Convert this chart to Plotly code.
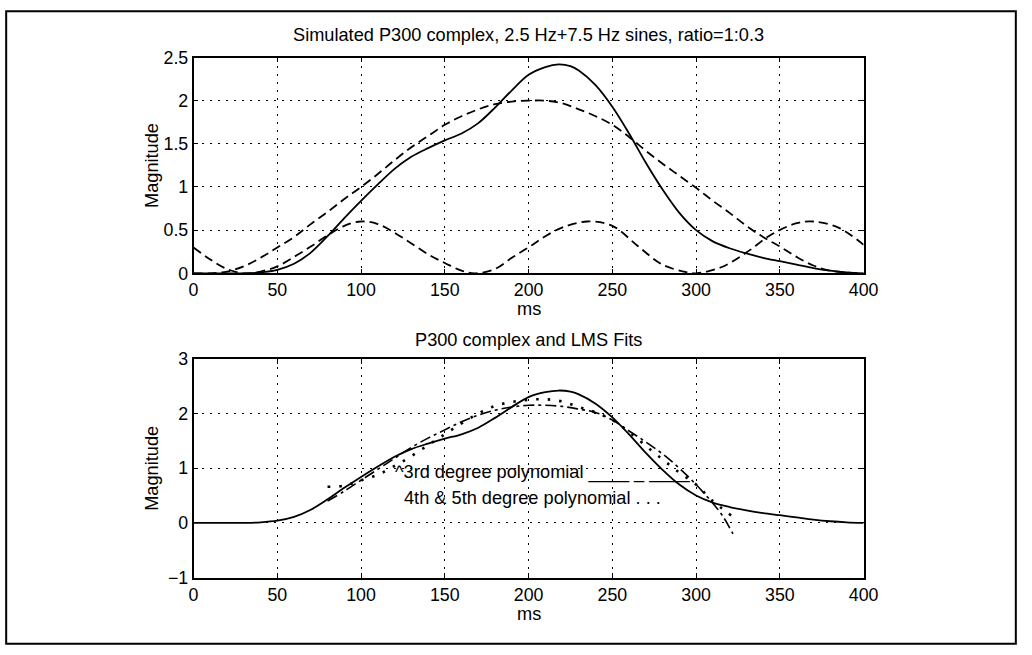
import plotly.graph_objects as go

# ---------------- data ----------------
ms_p300 = [0, 10, 20, 30, 40, 50, 60, 70, 80, 90, 100, 110, 120, 130, 140, 150, 160, 170,
           180, 190, 200, 210, 218, 225, 230, 240, 250, 260, 270, 280, 290, 300, 310, 320,
           330, 340, 350, 360, 370, 380, 390, 400]
p300 = [0.0, 0.0, 0.0, 0.0, 0.01, 0.04, 0.11, 0.24, 0.43, 0.64, 0.84, 1.03, 1.21, 1.35, 1.45,
        1.54, 1.62, 1.74, 1.92, 2.12, 2.30, 2.39, 2.42, 2.40, 2.35, 2.18, 1.93, 1.62, 1.28,
        0.97, 0.70, 0.50, 0.37, 0.29, 0.23, 0.18, 0.14, 0.10, 0.06, 0.03, 0.01, 0.0]

ms_slow = [0, 10, 20, 30, 40, 50, 60, 70, 80, 90, 100, 110, 120, 130, 140, 150, 160, 170,
           180, 190, 200, 210, 220, 230, 240, 250, 260, 270, 280, 290, 300, 310, 320, 330,
           340, 350, 360, 370, 380, 390, 400]
slow_sine = [0.0, 0.0, 0.02, 0.08, 0.18, 0.30, 0.42, 0.57, 0.71, 0.86, 1.0, 1.15, 1.31, 1.46,
             1.59, 1.72, 1.82, 1.90, 1.96, 1.99, 2.0, 2.0, 1.97, 1.90, 1.82, 1.72, 1.58, 1.42,
             1.27, 1.13, 0.99, 0.84, 0.70, 0.55, 0.42, 0.31, 0.19, 0.09, 0.03, 0.01, 0.0]

ms_fast = [0, 10, 20, 30, 40, 50, 60, 70, 80, 90, 100, 110, 125, 140, 150, 160, 168, 180, 190,
           200, 210, 220, 235, 250, 265, 280, 295, 300, 315, 330, 345, 360, 370, 385, 400]
fast_sine = [0.30, 0.16, 0.05, 0.0, 0.02, 0.08, 0.19, 0.31, 0.44, 0.55, 0.60, 0.57, 0.41,
             0.22, 0.12, 0.03, 0.0, 0.05, 0.18, 0.30, 0.43, 0.53, 0.60, 0.55, 0.32, 0.10,
             0.01, 0.0, 0.07, 0.24, 0.45, 0.58, 0.60, 0.53, 0.33]

ms_fit3 = [80, 90, 100, 110, 120, 130, 140, 150, 160, 170, 180, 190, 200, 210, 220, 230, 240,
           250, 260, 270, 280, 290, 300, 310, 316, 322]
fit3 = [0.40, 0.58, 0.78, 0.98, 1.18, 1.38, 1.55, 1.70, 1.85, 1.97, 2.06, 2.12, 2.15, 2.15,
        2.13, 2.08, 2.02, 1.88, 1.68, 1.48, 1.26, 1.00, 0.70, 0.36, 0.12, -0.20]

ms_fit45 = [80, 90, 100, 110, 120, 130, 140, 150, 160, 170, 180, 190, 200, 210, 220, 230, 240,
            250, 260, 270, 280, 290, 300, 310, 322]
fit45 = [0.66, 0.68, 0.78, 0.88, 1.04, 1.22, 1.42, 1.62, 1.82, 2.00, 2.14, 2.21, 2.25, 2.26,
         2.22, 2.12, 2.02, 1.88, 1.66, 1.41, 1.16, 0.92, 0.70, 0.40, 0.11]

x_ticks = [0, 50, 100, 150, 200, 250, 300, 350, 400]
y_ticks_top = [0, 0.5, 1, 1.5, 2, 2.5]
y_ticks_bottom = [-1, 0, 1, 2, 3]

top_title = "Simulated P300 complex, 2.5 Hz+7.5 Hz sines, ratio=1:0.3"
bottom_title = "P300 complex and LMS Fits"
fit3_label = "^3rd degree polynomial ____ _ ____"
fit45_label = "4th & 5th degree polynomial . . ."

# ---------------- layout geometry ----------------
W, H = 1032, 655
# the captured picture comes out slightly shrunk/offset; these undo it
KX, OX = 0.982, 4.2
KY, OY = 0.975, 6.2

# target pixel positions in the final picture
LEFT, RIGHT = 193, 864
TOP1, BOT1 = 54, 271
TOP2, BOT2 = 357, 577
FONT = "Liberation Sans, Arial, Helvetica, sans-serif"


def fx(p):
    return ((p - OX) / KX) / W


def fy(p):
    return 1 - ((p - OY) / KY) / H


fig = go.Figure()

# top subplot
fig.add_trace(go.Scatter(x=ms_p300, y=p300, mode="lines", xaxis="x", yaxis="y",
                         line=dict(color="black", width=1.8, shape="spline", smoothing=0.9)))
fig.add_trace(go.Scatter(x=ms_slow, y=slow_sine, mode="lines", xaxis="x", yaxis="y",
                         line=dict(color="black", width=1.8, dash="9px,5px", shape="spline")))
fig.add_trace(go.Scatter(x=ms_fast, y=fast_sine, mode="lines", xaxis="x", yaxis="y",
                         line=dict(color="black", width=1.8, dash="9px,5px", shape="spline")))

# bottom subplot
fig.add_trace(go.Scatter(x=ms_p300, y=p300, mode="lines", xaxis="x2", yaxis="y2",
                         line=dict(color="black", width=1.8, shape="spline", smoothing=0.9)))
fig.add_trace(go.Scatter(x=ms_fit3, y=fit3, mode="lines", xaxis="x2", yaxis="y2",
                         line=dict(color="black", width=1.6, dash="11px,4px,3px,4px",
                                   shape="spline")))
fig.add_trace(go.Scatter(x=ms_fit45, y=fit45, mode="lines", xaxis="x2", yaxis="y2",
                         line=dict(color="black", width=2.6, dash="2.5px,9px", shape="spline")))

axis_common = dict(
    showline=True, linecolor="black", linewidth=1.5, mirror="ticks",
    ticks="inside", ticklen=5, tickcolor="black", tickwidth=1.2,
    showgrid=True, gridcolor="black", gridwidth=1.3, griddash="2px,6px",
    zeroline=False, tickfont=dict(family=FONT, size=17.8, color="black"),
)

fig.update_layout(
    width=W, height=H, autosize=False,
    margin=dict(l=0, r=0, t=0, b=0),
    paper_bgcolor="white", plot_bgcolor="white",
    showlegend=False,
    xaxis=dict(domain=[fx(LEFT), fx(RIGHT)], anchor="y", range=[0, 400],
               tickvals=x_ticks, **axis_common),
    yaxis=dict(domain=[fy(BOT1), fy(TOP1)], anchor="x", range=[0, 2.5],
               tickvals=y_ticks_top, ticktext=[f"{v:g}" for v in y_ticks_top], **axis_common),
    xaxis2=dict(domain=[fx(LEFT), fx(RIGHT)], anchor="y2", range=[0, 400],
                tickvals=x_ticks, **axis_common),
    yaxis2=dict(domain=[fy(BOT2), fy(TOP2)], anchor="x2", range=[-1, 3],
                tickvals=y_ticks_bottom, **axis_common),
)

txt = dict(family=FONT, size=18.2, color="black")
ann = [
    dict(text=top_title, x=fx((LEFT + RIGHT) / 2), y=fy(31)),
    dict(text=bottom_title, x=fx((LEFT + RIGHT) / 2), y=fy(338)),
    dict(text="ms", x=fx((LEFT + RIGHT) / 2), y=fy(307)),
    dict(text="ms", x=fx((LEFT + RIGHT) / 2), y=fy(614)),
    dict(text="Magnitude", x=fx(152), y=fy((TOP1 + BOT1) / 2), textangle=-90),
    dict(text="Magnitude", x=fx(152), y=fy((TOP2 + BOT2) / 2), textangle=-90),
]
for a in ann:
    fig.add_annotation(xref="paper", yref="paper", showarrow=False, font=txt,
                       xanchor="center", yanchor="middle", **a)

fig.add_annotation(text=fit3_label, xref="x2", yref="y2", x=119.2, y=0.92,
                   xanchor="left", yanchor="middle", showarrow=False, font=txt)
fig.add_annotation(text=fit45_label, xref="x2", yref="y2", x=124.6, y=0.46,
                   xanchor="left", yanchor="middle", showarrow=False, font=txt)

# outer frame of the figure (kept just inside the page)
fig.add_shape(type="rect", xref="paper", yref="paper",
              x0=1.2 / W, x1=1 - 1.2 / W, y0=1.2 / H, y1=1 - 1.2 / H,
              line=dict(color="black", width=2))

fig.write_html("out.html", config={"displayModeBar": False})

with open("out.html", "r", encoding="utf-8") as f:
    html = f.read()
html = html.replace("<head>", "<head><style>html,body{margin:0;padding:0;overflow:hidden;}</style>", 1)
with open("out.html", "w", encoding="utf-8") as f:
    f.write(html)
